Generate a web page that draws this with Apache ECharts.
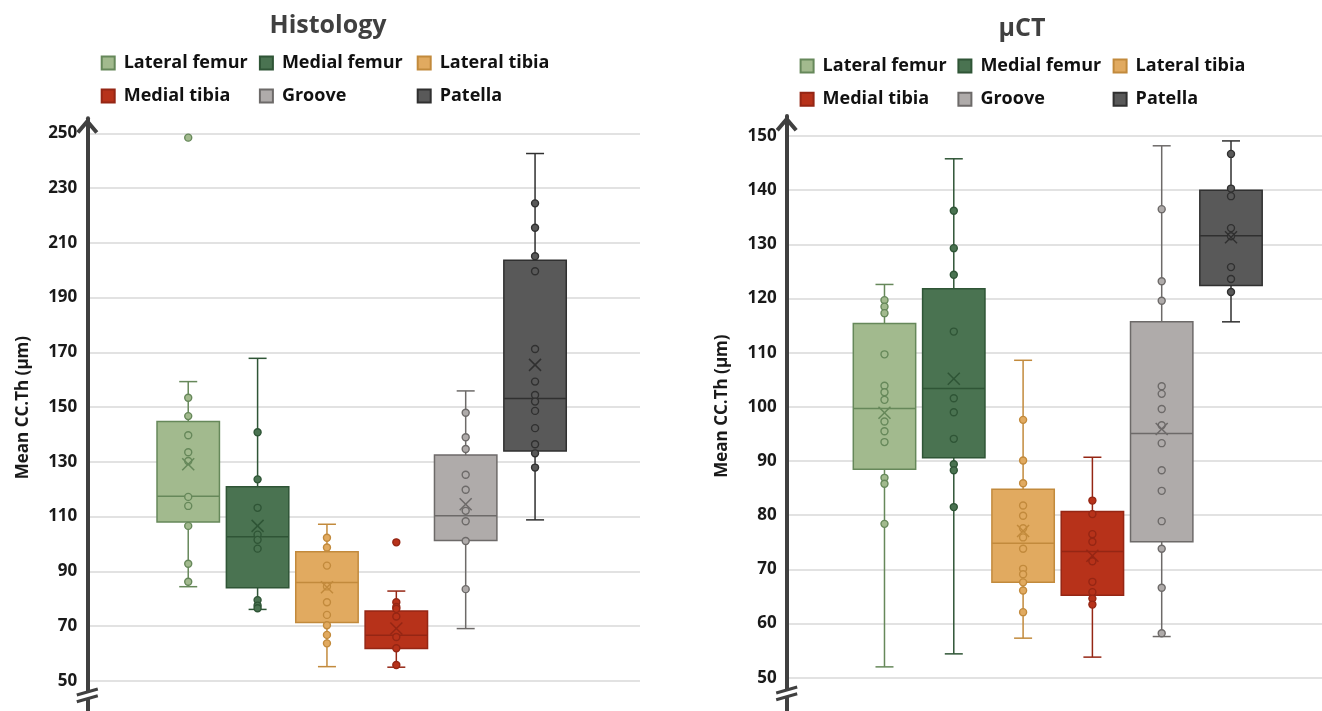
<!DOCTYPE html>
<html><head><meta charset="utf-8">
<script src="https://cdn.jsdelivr.net/npm/echarts@6/dist/echarts.min.js"></script>
<style>html,body{margin:0;padding:0;background:#fff}#c{width:1322px;height:711px}</style>
</head><body><div id="c"></div>
<script>
// ---------- data ----------
const categories = ['Lateral femur', 'Medial femur', 'Lateral tibia', 'Medial tibia', 'Groove', 'Patella'];
const histoTicks = [50, 70, 90, 110, 130, 150, 170, 190, 210, 230, 250];
const ctTicks = [50, 60, 70, 80, 90, 100, 110, 120, 130, 140, 150];

const histoMin    = [84.4, 76.1, 55.2, 55.0, 69.1, 108.8];
const histoQ1     = [108.0, 84.0, 71.3, 61.8, 101.3, 134.0];
const histoMedian = [117.4, 102.6, 85.9, 66.7, 110.3, 153.1];
const histoQ3     = [144.7, 120.9, 97.2, 75.5, 132.5, 203.6];
const histoMax    = [159.3, 167.8, 107.2, 82.8, 155.9, 242.6];
const histoMean   = [129.1, 106.6, 84.2, 69.1, 114.5, 165.4];
const histoPoints = [
  [248.4, 153.4, 146.7, 139.7, 133.5, 130.3, 117.2, 113.9, 106.6, 92.8, 86.2],
  [140.8, 123.6, 113.2, 103.4, 101.5, 98.3, 79.5, 77.5, 76.5],
  [102.3, 98.7, 92.1, 84.5, 78.7, 74.1, 70.3, 66.8, 63.7],
  [100.6, 78.7, 77.0, 76.3, 73.5, 66.0, 61.9, 55.8],
  [147.9, 139.0, 134.7, 125.3, 119.8, 112.1, 108.3, 101.1, 83.5],
  [224.4, 215.5, 205.1, 199.6, 171.2, 159.3, 154.4, 152.0, 148.6, 142.3, 136.4, 133.1, 127.9]
];

const ctMin    = [52.0, 54.4, 57.3, 53.8, 57.6, 115.7];
const ctQ1     = [88.5, 90.6, 67.6, 65.2, 75.1, 122.4];
const ctMedian = [99.7, 103.4, 74.8, 73.3, 95.1, 131.6];
const ctQ3     = [115.4, 121.8, 84.8, 80.7, 115.7, 140.0];
const ctMax    = [122.6, 145.8, 108.6, 90.7, 148.2, 149.1];
const ctMean   = [98.9, 105.2, 77.1, 72.5, 95.9, 131.3];
const ctPoints = [
  [119.7, 118.5, 117.3, 109.7, 103.9, 102.7, 101.3, 97.3, 95.5, 93.5, 86.9, 85.8, 78.4],
  [136.2, 129.3, 124.4, 113.9, 101.6, 99.0, 94.1, 89.4, 88.3, 81.5],
  [97.6, 90.1, 85.9, 81.8, 79.9, 77.6, 75.9, 73.8, 70.1, 69.1, 67.6, 66.1, 62.1],
  [82.7, 80.2, 76.5, 75.1, 71.5, 67.7, 65.8, 64.6, 63.5],
  [136.5, 123.2, 119.6, 103.8, 102.4, 99.6, 96.6, 93.3, 88.3, 84.5, 78.9, 73.8, 66.6, 58.2],
  [146.7, 140.3, 138.9, 133.0, 131.5, 125.8, 123.6, 121.2]
];

// ---------- styles ----------
const fillColors   = ['#a2ba8e', '#4a7351', '#e1aa60', '#b7321a', '#afabaa', '#595959'];
const borderColors = ['#66885a', '#2f5536', '#c28a3c', '#952614', '#6d6a69', '#303030'];
const FONT = '"Open Sans", Lato, sans-serif';
const BOX_HALF = 0.45;   // box half width in category units
const CAP_HALF_PX = 9;
const X_HALF_PX = 6;
const chevron = 'path://M11,0L22,13L18.95,15.58L11,6.18L3.05,15.58L0,13Z';

function boxRender(params, api) {
  const i = params.dataIndex;
  const x = api.value(0);
  const pMin = api.coord([x, api.value(1)]);
  const pQ1 = api.coord([x - BOX_HALF, api.value(2)]);
  const pMed = api.coord([x, api.value(3)]);
  const pQ3 = api.coord([x + BOX_HALF, api.value(4)]);
  const pMax = api.coord([x, api.value(5)]);
  const cx = pMin[0];
  const ls = { stroke: borderColors[i], lineWidth: 1.5 };
  return {
    type: 'group',
    children: [
      { type: 'line', shape: { x1: cx, y1: pMax[1], x2: cx, y2: pQ3[1] }, style: ls },
      { type: 'line', shape: { x1: cx, y1: pQ1[1], x2: cx, y2: pMin[1] }, style: ls },
      { type: 'line', shape: { x1: cx - CAP_HALF_PX, y1: pMax[1], x2: cx + CAP_HALF_PX, y2: pMax[1] }, style: ls },
      { type: 'line', shape: { x1: cx - CAP_HALF_PX, y1: pMin[1], x2: cx + CAP_HALF_PX, y2: pMin[1] }, style: ls },
      { type: 'rect', shape: { x: pQ1[0], y: pQ3[1], width: pQ3[0] - pQ1[0], height: pQ1[1] - pQ3[1] },
        style: { fill: fillColors[i], stroke: borderColors[i], lineWidth: 1.5 } },
      { type: 'line', shape: { x1: pQ1[0], y1: pMed[1], x2: pQ3[0], y2: pMed[1] }, style: ls }
    ]
  };
}
function meanRender(params, api) {
  const i = params.dataIndex;
  const p = api.coord([api.value(0), api.value(1)]);
  const s = X_HALF_PX;
  const ls = { stroke: borderColors[i], lineWidth: 1.5 };
  return {
    type: 'group',
    children: [
      { type: 'line', shape: { x1: p[0] - s, y1: p[1] - s, x2: p[0] + s, y2: p[1] + s }, style: ls },
      { type: 'line', shape: { x1: p[0] - s, y1: p[1] + s, x2: p[0] + s, y2: p[1] - s }, style: ls }
    ]
  };
}

function chartSeries(idx, mins, q1s, meds, q3s, maxs, means, points) {
  const out = [];
  out.push({
    type: 'custom', xAxisIndex: idx, yAxisIndex: idx, z: 2, silent: true,
    renderItem: boxRender,
    encode: { x: 0, y: [1, 2, 3, 4, 5] },
    data: categories.map((c, i) => [i + 1, mins[i], q1s[i], meds[i], q3s[i], maxs[i]])
  });
  categories.forEach((c, i) => {
    out.push({
      type: 'scatter', name: c, xAxisIndex: idx, yAxisIndex: idx, z: 3, silent: true,
      symbol: 'circle', symbolSize: 7,
      itemStyle: { color: fillColors[i], borderColor: borderColors[i], borderWidth: 1.4, opacity: 1 },
      data: points[i].map(v => [i + 1, v])
    });
  });
  out.push({
    type: 'custom', xAxisIndex: idx, yAxisIndex: idx, z: 4, silent: true,
    renderItem: meanRender,
    encode: { x: 0, y: 1 },
    data: categories.map((c, i) => [i + 1, means[i]])
  });
  return out;
}

function yAxisDef(idx, min, max, ticks) {
  return {
    gridIndex: idx, type: 'value', min: min, max: max,
    axisLine: { show: true, onZero: false, lineStyle: { color: '#404040', width: 4 },
      symbol: ['none', chevron], symbolSize: [22, 15.6], symbolOffset: [0, -7.8] },
    axisTick: { show: false, customValues: ticks },
    axisLabel: { customValues: ticks, fontFamily: FONT, fontWeight: 'bold', fontSize: 17, color: '#1a1a1a', margin: 10 },
    splitLine: { show: true, lineStyle: { color: '#d9d9d9', width: 1.5 } },
    name: 'Mean CC.Th (µm)', nameLocation: 'middle', nameGap: 56,
    nameTextStyle: { fontFamily: FONT, fontWeight: 'bold', fontSize: 17, color: '#1a1a1a', padding: [0, 0, 0, 14] }
  };
}

function legends(cols, rows) {
  return categories.map((c, i) => ({
    data: [c], left: cols[i % 3], top: rows[Math.floor(i / 3)] - 8,
    icon: 'rect', itemWidth: 13, itemHeight: 13, padding: 0, selectedMode: false,
    textStyle: { fontFamily: FONT, fontWeight: 'bold', fontSize: 18, color: '#111', padding: [0, 0, 0, 4] }
  }));
}

const chart = echarts.init(document.getElementById('c'), null, { renderer: 'canvas' });
const option = {
  animation: false,
  backgroundColor: '#fff',
  title: [
    { text: 'Histology', left: 323, top: 8, textAlign: 'center',
      textStyle: { fontFamily: FONT, fontWeight: 'bold', fontSize: 25, color: '#404040' } },
    { text: 'µCT', left: 1017, top: 11, textAlign: 'center',
      textStyle: { fontFamily: FONT, fontWeight: 'bold', fontSize: 25, color: '#404040' } }
  ],
  legend: legends([100.7, 258.9, 416.7], [62, 95]).concat(legends([799.6, 957.4, 1112.6], [65, 98.3])),
  grid: [
    { left: 87.3, top: 118.2, width: 552.7, height: 592.9 },
    { left: 786.7, top: 116, right: 0, height: 594.2 }
  ],
  xAxis: [
    { gridIndex: 0, type: 'value', min: -0.455, max: 7.513, show: false },
    { gridIndex: 1, type: 'value', min: -0.411, max: 7.313, show: false }
  ],
  yAxis: [
    yAxisDef(0, 39, 255.5, histoTicks),
    yAxisDef(1, 44, 153.7, ctTicks)
  ],
  series: chartSeries(0, histoMin, histoQ1, histoMedian, histoQ3, histoMax, histoMean, histoPoints)
    .concat(chartSeries(1, ctMin, ctQ1, ctMedian, ctQ3, ctMax, ctMean, ctPoints))
};
chart.setOption(option);

// axis break marks
function breakMark(idx, xMin, val) {
  const cx = chart.convertToPixel({ xAxisIndex: idx }, xMin);
  const cy = chart.convertToPixel({ yAxisIndex: idx }, val);
  const hw = 10.5, slope = 0.285, sep = 3.4;
  const y = (x, off) => cy + off - slope * (x - cx);
  return [
    { type: 'polygon', z: 100, shape: { points: [[cx - 6, y(cx - 6, -sep)], [cx + 6, y(cx + 6, -sep)], [cx + 6, y(cx + 6, sep)], [cx - 6, y(cx - 6, sep)]] },
      style: { fill: '#ffffff' } },
    { type: 'line', z: 101, shape: { x1: cx - hw, y1: y(cx - hw, -sep), x2: cx + hw, y2: y(cx + hw, -sep) }, style: { stroke: '#404040', lineWidth: 3 } },
    { type: 'line', z: 101, shape: { x1: cx - hw, y1: y(cx - hw, sep), x2: cx + hw, y2: y(cx + hw, sep) }, style: { stroke: '#404040', lineWidth: 3 } }
  ];
}
chart.setOption({ graphic: breakMark(0, -0.455, 44.7).concat(breakMark(1, -0.411, 47.1)) });
</script>
</body></html>
